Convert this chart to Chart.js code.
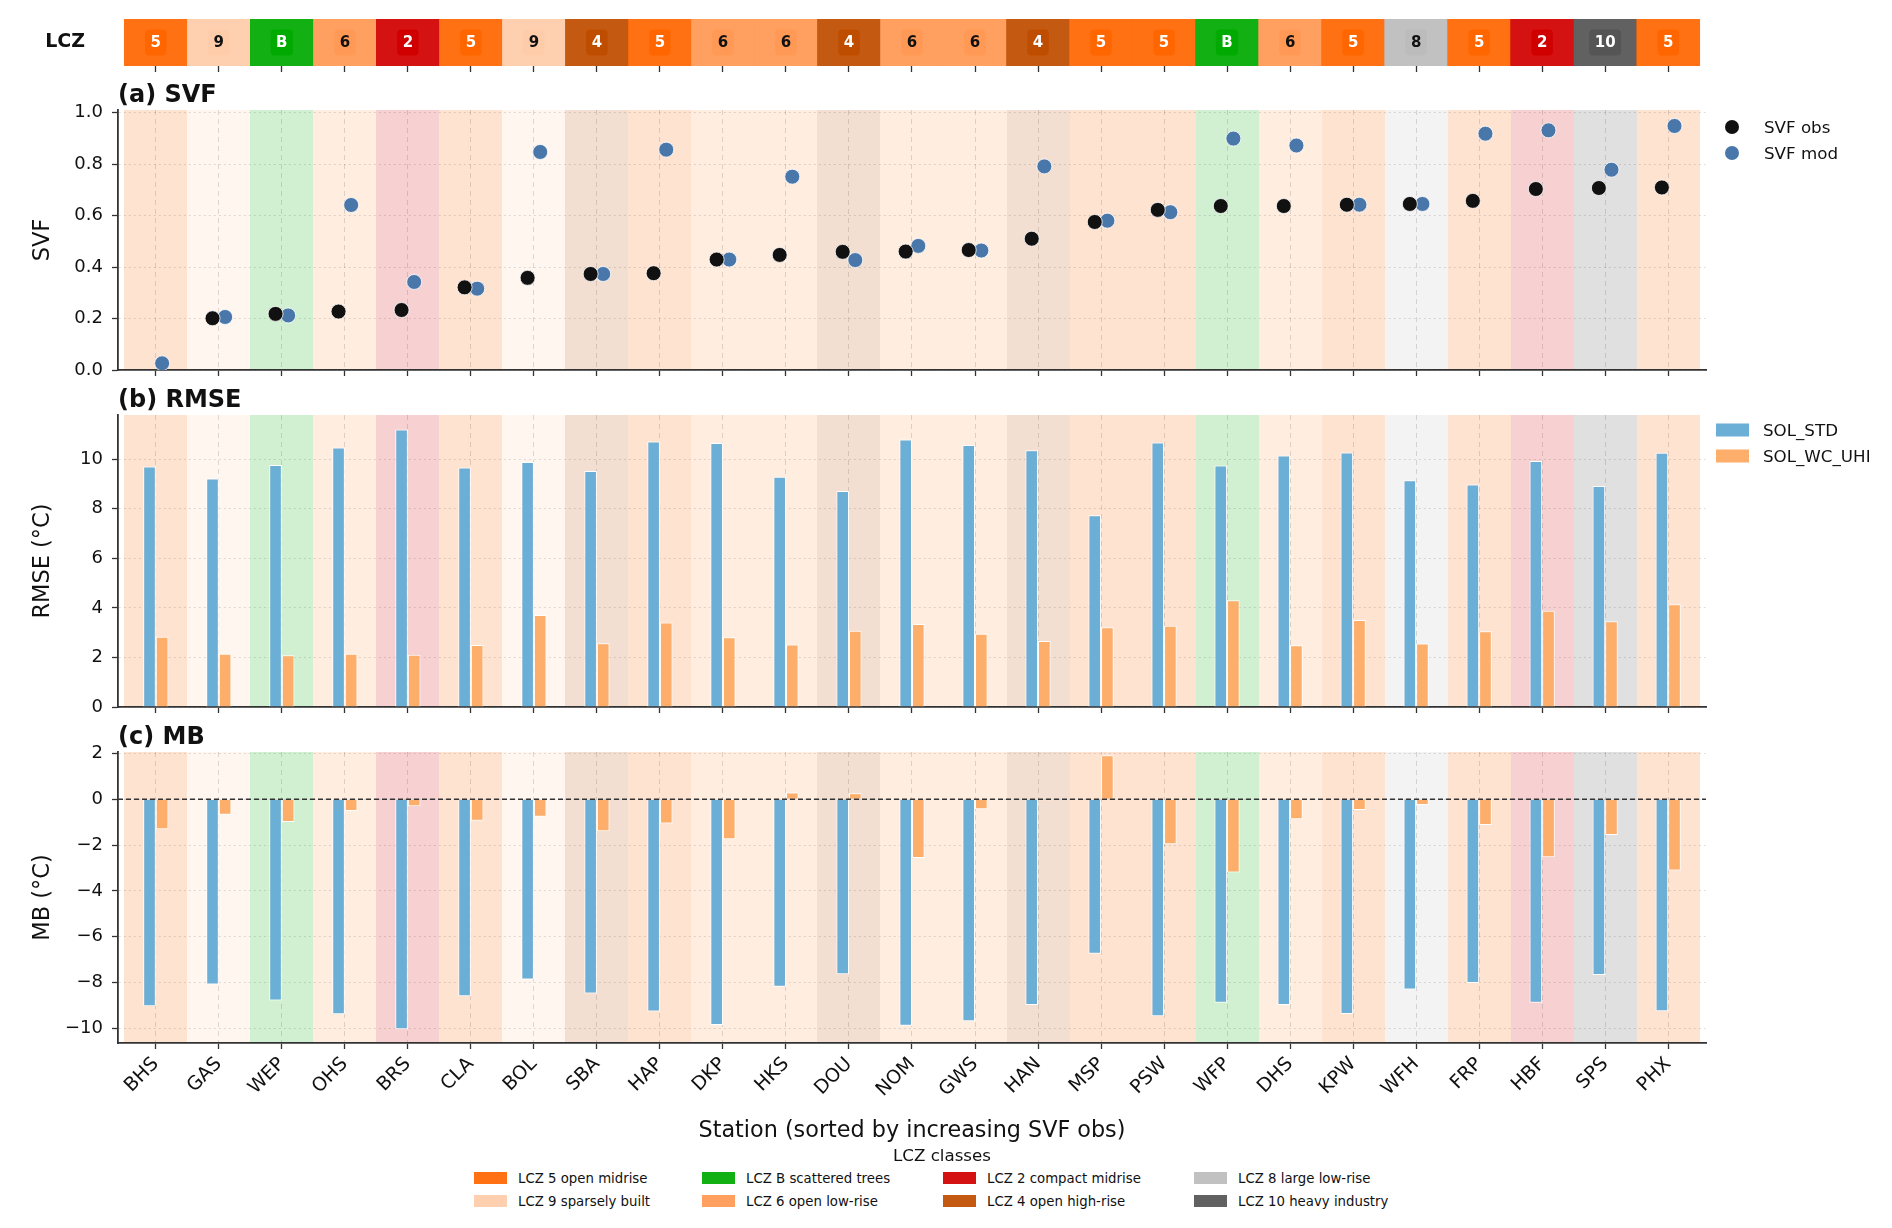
<!DOCTYPE html>
<html>
<head>
<meta charset="utf-8">
<title>SVF, RMSE and MB by station</title>
<script src="https://cdn.jsdelivr.net/npm/chart.js@4.4.1/dist/chart.umd.min.js"></script>
<style>
  body { margin: 0; background: #fff; }
  #page { position: relative; width: 1892px; height: 1228px; overflow: hidden; font-family: "DejaVu Sans", sans-serif; color: #111; }
  #page canvas { position: absolute; left: 0; }
  .txt { position: absolute; white-space: nowrap; transform: translateY(-50%); }
  .sw { position: absolute; transform: translateY(-50%); }
</style>
</head>
<body>
<div id="page">
  <canvas id="lcz" width="1892" height="78" style="top:0px"></canvas>
  <canvas id="svf" width="1892" height="322" style="top:80px"></canvas>
  <canvas id="rmse" width="1892" height="354" style="top:385px"></canvas>
  <canvas id="mb" width="1892" height="431" style="top:722px"></canvas>
</div>
<script>
// stations sorted by increasing observed SVF
var stations = ['BHS', 'GAS', 'WEP', 'OHS', 'BRS', 'CLA', 'BOL', 'SBA', 'HAP', 'DKP', 'HKS', 'DOU', 'NOM',
                'GWS', 'HAN', 'MSP', 'PSW', 'WFP', 'DHS', 'KPW', 'WFH', 'FRP', 'HBF', 'SPS', 'PHX'];
var lczClass = ['5', '9', 'B', '6', '2', '5', '9', '4', '5', '6', '6', '4', '6',
                '6', '4', '5', '5', 'B', '6', '5', '8', '5', '2', '10', '5'];

var svfObs = [null, 0.201, 0.218, 0.227, 0.233, 0.321, 0.358, 0.373, 0.376, 0.429, 0.447, 0.459, 0.460,
              0.466, 0.510, 0.575, 0.622, 0.637, 0.637, 0.642, 0.645, 0.657, 0.703, 0.707, 0.709];
var svfMod = [0.026, 0.206, 0.212, 0.641, 0.342, 0.316, 0.847, 0.373, 0.856, 0.429, 0.751, 0.427, 0.482,
              0.464, 0.791, 0.580, 0.613, 0.899, 0.872, 0.642, 0.645, 0.918, 0.931, 0.778, 0.948];

var rmseStd = [9.70, 9.22, 9.76, 10.47, 11.20, 9.66, 9.88, 9.52, 10.71, 10.65, 9.29, 8.71, 10.79,
               10.57, 10.36, 7.74, 10.67, 9.74, 10.15, 10.27, 9.15, 8.98, 9.92, 8.92, 10.26];
var rmseUhi = [2.83, 2.15, 2.09, 2.15, 2.11, 2.50, 3.71, 2.57, 3.41, 2.81, 2.52, 3.08, 3.35,
               2.96, 2.66, 3.22, 3.28, 4.31, 2.49, 3.51, 2.56, 3.06, 3.88, 3.46, 4.15];

var mbStd = [-9.03, -8.08, -8.78, -9.38, -10.03, -8.59, -7.86, -8.47, -9.26, -9.84, -8.18, -7.63, -9.88,
             -9.68, -8.97, -6.74, -9.46, -8.87, -8.97, -9.36, -8.30, -8.01, -8.88, -7.67, -9.25];
var mbUhi = [-1.31, -0.68, -0.99, -0.51, -0.31, -0.94, -0.76, -1.40, -1.06, -1.74, 0.29, 0.26, -2.56,
             -0.44, -0.07, 1.92, -1.96, -3.20, -0.87, -0.47, -0.25, -1.12, -2.53, -1.56, -3.11];

var svfTicks = [0, 0.2, 0.4, 0.6, 0.8, 1.0];
var rmseTicks = [0, 2, 4, 6, 8, 10];
var mbTicks = [-10, -8, -6, -4, -2, 0, 2];

var lczColors = { '2': '#D10000', '4': '#BF4D00', '5': '#FF6600', '6': '#FF9955',
                  '8': '#BCBCBC', '9': '#FFCCAA', '10': '#555555', 'B': '#00AA00' };
var lczNames = { '2': 'LCZ 2 compact midrise', '4': 'LCZ 4 open high-rise', '5': 'LCZ 5 open midrise',
                 '6': 'LCZ 6 open low-rise', '8': 'LCZ 8 large low-rise', '9': 'LCZ 9 sparsely built',
                 '10': 'LCZ 10 heavy industry', 'B': 'LCZ B scattered trees' };

var BLUE = '#6baed6', ORANGE = '#fdae6b', OBS = '#111111', MOD = '#4a77aa';
var AREA_L = 118, AREA_R = 1706, PAD_T = 30, PAD_B = 20;
var SPINE = '#333333', GRID = 'rgba(0,0,0,0.13)';

Chart.defaults.font.family = '"DejaVu Sans", sans-serif';
Chart.defaults.color = '#111';

function rgba(hex, a) {
    var n = parseInt(hex.slice(1), 16);
    return 'rgba(' + (n >> 16) + ',' + ((n >> 8) & 255) + ',' + (n & 255) + ',' + a + ')';
}
function isDark(hex) {
    var n = parseInt(hex.slice(1), 16);
    return 0.299 * (n >> 16) + 0.587 * ((n >> 8) & 255) + 0.114 * (n & 255) < 150;
}
function minus(v) { return String(v).replace('-', '\u2212'); }

function xAxis(height, withLabels, extra) {
    var ax = {
        type: 'linear', min: -0.6, max: 24.6, offset: false,
        afterBuildTicks: function(s) { s.ticks = stations.map(function(_, i) { return { value: i }; }); },
        afterFit: function(s) { s.height = height; },
        ticks: {
            autoSkip: false, minRotation: 45, maxRotation: 45, padding: 4, color: '#111', font: { size: 19 },
            callback: function(v) { return withLabels ? stations[v] : ''; }
        },
        grid: { display: true, drawOnChartArea: true, offset: false, color: GRID, lineWidth: 1,
                tickLength: 6, tickColor: SPINE, tickWidth: 1.3 },
        border: { display: true, color: SPINE, width: 1.8, dash: [5, 4] }
    };
    return Object.assign(ax, extra || {});
}

function yAxis(min, max, ticks, title, fmt) {
    return {
        min: min, max: max,
        afterBuildTicks: function(s) { s.ticks = ticks.map(function(v) { return { value: v }; }); },
        afterFit: function(s) { s.width = AREA_L; },
        ticks: { padding: 9, color: '#111', font: { size: 18 }, callback: fmt },
        grid: { color: GRID, lineWidth: 1, tickLength: 6, tickColor: SPINE, tickWidth: 1.3 },
        border: { display: true, color: SPINE, width: 1.8, dash: [2, 3] },
        title: { display: true, text: title, color: '#111', font: { size: 22.5 }, padding: { top: 29.5, bottom: 0 } }
    };
}

// light LCZ coloured band behind every station
var bandPlugin = {
    id: 'lczBands',
    beforeDraw: function(chart) {
        var ctx = chart.ctx, a = chart.chartArea, x = chart.scales.x;
        ctx.save();
        lczClass.forEach(function(c, i) {
            var x0 = Math.round(x.getPixelForValue(i - 0.5)), x1 = Math.round(x.getPixelForValue(i + 0.5));
            ctx.fillStyle = rgba(lczColors[c], 0.18);
            ctx.fillRect(x0, a.top, x1 - x0, a.bottom - a.top);
        });
        ctx.restore();
    }
};

var titlePlugin = {
    id: 'panelTitle',
    afterDraw: function(chart, args, opts) {
        if (!opts.text) return;
        var ctx = chart.ctx, a = chart.chartArea;
        ctx.save();
        ctx.font = 'bold 24px "DejaVu Sans"';
        ctx.fillStyle = '#111';
        ctx.textAlign = 'left';
        ctx.textBaseline = 'middle';
        ctx.fillText(opts.text, a.left, a.top - 14);
        ctx.restore();
    }
};

var zeroLine = {
    id: 'zeroLine',
    afterDatasetsDraw: function(chart) {
        var ctx = chart.ctx, a = chart.chartArea, y = chart.scales.y.getPixelForValue(0);
        ctx.save();
        ctx.strokeStyle = SPINE;
        ctx.lineWidth = 1.5;
        ctx.setLineDash([5, 3]);
        ctx.beginPath();
        ctx.moveTo(a.left, y);
        ctx.lineTo(a.right, y);
        ctx.stroke();
        ctx.restore();
    }
};

// class labels on the top strip, plus the row label
var lczLabels = {
    id: 'lczLabels',
    afterDatasetsDraw: function(chart) {
        var ctx = chart.ctx, a = chart.chartArea, x = chart.scales.x;
        var yc = (a.top + a.bottom) / 2;
        ctx.save();
        ctx.textBaseline = 'middle';
        ctx.font = 'bold 19px "DejaVu Sans"';
        ctx.fillStyle = '#111';
        ctx.textAlign = 'right';
        ctx.fillText('LCZ', a.left - 33, yc);
        ctx.font = 'bold 15px "DejaVu Sans"';
        ctx.textAlign = 'center';
        lczClass.forEach(function(c, i) {
            var xc = x.getPixelForValue(i);
            var w = ctx.measureText(c).width + 11, h = 26, r = 4;
            var l = xc - w / 2, t = yc - h / 2;
            ctx.fillStyle = lczColors[c];
            ctx.beginPath();
            ctx.moveTo(l + r, t);
            ctx.arcTo(l + w, t, l + w, t + h, r);
            ctx.arcTo(l + w, t + h, l, t + h, r);
            ctx.arcTo(l, t + h, l, t, r);
            ctx.arcTo(l, t, l + w, t, r);
            ctx.closePath();
            ctx.fill();
            ctx.fillStyle = isDark(lczColors[c]) ? '#ffffff' : '#111111';
            ctx.fillText(c, xc, yc + 1);
        });
        ctx.restore();
    }
};

function points(values, shift) {
    return values.map(function(v, i) { return { x: i + shift, y: v }; });
}
function bars(values) {
    return values.map(function(v, i) { return { x: i, y: v }; });
}
function baseOptions(padTop, padBottom, xax, yax, title) {
    return {
        responsive: false, animation: false, devicePixelRatio: 1,
        layout: { padding: { left: 0, right: 1892 - AREA_R, top: padTop, bottom: padBottom } },
        plugins: { legend: { display: false }, tooltip: { enabled: false }, panelTitle: { text: title } },
        scales: { x: xax, y: yax }
    };
}

// LCZ strip
new Chart(document.getElementById('lcz'), {
    type: 'bar',
    data: { datasets: [{
        data: stations.map(function(_, i) { return { x: i, y: 1 }; }),
        backgroundColor: lczClass.map(function(c) { return rgba(lczColors[c], 0.93); }),
        borderWidth: 0, barPercentage: 1, categoryPercentage: 1
    }] },
    options: baseOptions(19, 0,
        xAxis(12, false, { border: { display: false },
            grid: { display: true, drawOnChartArea: false, offset: false, tickLength: 6, tickColor: SPINE, tickWidth: 1.3 } }),
        {
            min: 0, max: 1,
            afterFit: function(s) { s.width = AREA_L; },
            ticks: { display: false },
            grid: { display: false, drawTicks: false }, border: { display: false }
        }, null),
    plugins: [lczLabels]
});

// (a) SVF
new Chart(document.getElementById('svf'), {
    type: 'scatter',
    data: { datasets: [
        { label: 'SVF obs', data: points(svfObs, -0.1), backgroundColor: OBS, borderColor: '#ffffff',
          borderWidth: 0.8, pointRadius: 7.5 },
        { label: 'SVF mod', data: points(svfMod, 0.1), backgroundColor: MOD, borderColor: '#ffffff',
          borderWidth: 0.8, pointRadius: 7.5 }
    ] },
    options: baseOptions(PAD_T, PAD_B, xAxis(12, false),
        yAxis(0, 1.01, svfTicks, 'SVF', function(v) { return v.toFixed(1); }), '(a) SVF'),
    plugins: [bandPlugin, titlePlugin]
});

function barSets(a, b) {
    return [
        { label: 'SOL_STD', data: bars(a), backgroundColor: BLUE, borderColor: '#ffffff', borderWidth: 1,
          categoryPercentage: 0.4, barPercentage: 1 },
        { label: 'SOL_WC_UHI', data: bars(b), backgroundColor: ORANGE, borderColor: '#ffffff', borderWidth: 1,
          categoryPercentage: 0.4, barPercentage: 1 }
    ];
}

// (b) RMSE
new Chart(document.getElementById('rmse'), {
    type: 'bar',
    data: { datasets: barSets(rmseStd, rmseUhi) },
    options: baseOptions(PAD_T, PAD_B, xAxis(12, false), yAxis(0, 11.78, rmseTicks, 'RMSE (°C)', minus), '(b) RMSE'),
    plugins: [bandPlugin, titlePlugin]
});

// (c) MB
var mbX = xAxis(110, true, {
    title: { display: true, text: 'Station (sorted by increasing SVF obs)', color: '#111',
             font: { size: 22.3 }, padding: { top: 0, bottom: 8.6 } }
});
new Chart(document.getElementById('mb'), {
    type: 'bar',
    data: { datasets: barSets(mbStd, mbUhi) },
    options: baseOptions(PAD_T, 0, mbX, yAxis(-10.63, 2.06, mbTicks, 'MB (°C)', minus), '(c) MB'),
    plugins: [bandPlugin, titlePlugin, zeroLine]
});

// legends
var page = document.getElementById('page');
function addText(txt, left, top, size, center) {
    var d = document.createElement('div');
    d.className = 'txt';
    d.textContent = txt;
    d.style.fontSize = size + 'px';
    d.style.top = top + 'px';
    if (center) { d.style.left = (left - 400) + 'px'; d.style.width = '800px'; d.style.textAlign = 'center'; }
    else d.style.left = left + 'px';
    page.appendChild(d);
}
function addSwatch(color, left, top, w, h, round) {
    var d = document.createElement('div');
    d.className = 'sw';
    d.style.left = left + 'px';
    d.style.top = top + 'px';
    d.style.width = w + 'px';
    d.style.height = h + 'px';
    d.style.background = color;
    if (round) d.style.borderRadius = '50%';
    page.appendChild(d);
}

[['SVF obs', OBS], ['SVF mod', MOD]].forEach(function(e, k) {
    addSwatch(e[1], 1725, 127 + 26 * k, 14, 14, true);
    addText(e[0], 1764, 127 + 26 * k, 16.7);
});
[['SOL_STD', BLUE], ['SOL_WC_UHI', ORANGE]].forEach(function(e, k) {
    addSwatch(e[1], 1716, 430 + 26 * k, 33, 13);
    addText(e[0], 1763, 430 + 26 * k, 16.7);
});

var seen = [];
lczClass.forEach(function(c) { if (seen.indexOf(c) < 0) seen.push(c); });
var legCols = [474, 702, 943, 1194];
addText('LCZ classes', 942, 1155, 16.7, true);
seen.forEach(function(c, k) {
    var col = Math.floor(k / 2), row = k % 2;
    var y = 1178 + 23 * row;
    addSwatch(rgba(lczColors[c], 0.93), legCols[col], y, 33, 12);
    addText(lczNames[c], legCols[col] + 44, y, 13.3);
});
</script>
</body>
</html>
